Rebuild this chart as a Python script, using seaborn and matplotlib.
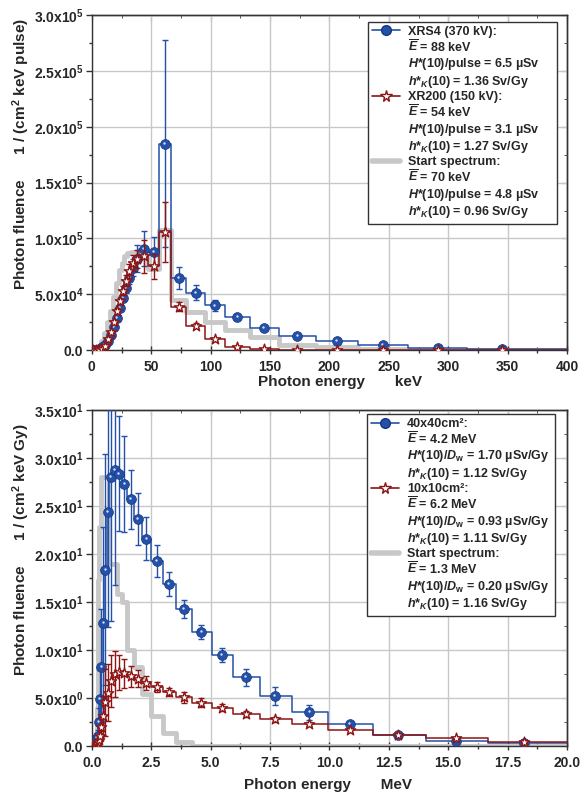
import pandas as pd
import seaborn as sns
import matplotlib.pyplot as plt
from matplotlib.lines import Line2D
from matplotlib.ticker import MultipleLocator
from matplotlib.transforms import offset_copy

# ---- upper panel: X-ray tubes (keV, 1/(cm2 keV pulse))
keV_edges = [0, 2.5, 5, 7.5, 10, 12.5, 15, 17.5, 20, 22.5, 25, 27.5, 30, 33, 36, 40,
             47.4, 56.7, 66.3, 79.7, 95, 112, 133, 157.5, 188.6, 224, 266, 315.5, 400]
keV_centres = [1.25, 3.75, 6.25, 8.75, 11.25, 13.75, 16.25, 18.75, 21.25, 23.75, 26.25,
               28.75, 31.5, 34.5, 38, 43.7, 52, 61.5, 73, 87.3, 103.5, 122.5, 145, 173,
               206, 245, 291, 345.5]
xrs4_flu = [0, 300, 1000, 2500, 5000, 8500, 14000, 21000, 29000, 38000, 47000, 56000,
            65000, 74000, 82000, 91000, 88000, 185000, 64500, 51600, 40000, 29300, 20000,
            12500, 8000, 4500, 2000, 600]
xrs4_err = [100, 100, 200, 300, 500, 800, 1200, 1800, 2500, 3000, 4000, 5000, 6000, 8000,
            12000, 16000, 13000, 93000, 10000, 7000, 5000, 2000, 1200, 800, 500, 300, 200, 100]
xr200_flu = [0, 0, 300, 1000, 3500, 9600, 16000, 25000, 35000, 44000, 53000, 62000, 71000,
             78000, 82000, 84000, 75000, 106000, 39000, 22000, 9600, 2400, 600, 200, 100, 0, 0, 0]
xr200_err = [0, 0, 100, 200, 400, 800, 1300, 2000, 2500, 3000, 4000, 5000, 6000, 7000, 8000,
             15000, 11000, 27000, 4000, 2000, 1500, 500, 200, 100, 100, 0, 0, 0]
start_keV_flu = [0, 500, 3000, 8000, 15000, 25000, 35000, 48000, 60000, 72000, 78000, 84000,
                 87000, 88000, 88000, 86000, 73000, 108000, 45000, 34000, 25000, 18000,
                 12000, 5000, 2400, 600, 0, 0]

# ---- lower panel: linac fields (MeV, 1/(cm2 keV Gy))
MeV_edges = [0.078, 0.092, 0.11, 0.13, 0.155, 0.185, 0.22, 0.26, 0.31, 0.37, 0.44, 0.52,
             0.62, 0.74, 0.88, 1.05, 1.25, 1.49, 1.77, 2.11, 2.51, 2.98, 3.55, 4.22, 5.04,
             5.95, 7.07, 8.41, 9.95, 11.84, 14.06, 16.69, 20.0]
MeV_centres = [0.085, 0.1, 0.12, 0.142, 0.17, 0.2, 0.24, 0.285, 0.34, 0.405, 0.48, 0.57,
               0.68, 0.81, 0.96, 1.15, 1.37, 1.63, 1.94, 2.3, 2.74, 3.25, 3.87, 4.61, 5.48,
               6.49, 7.71, 9.15, 10.85, 12.9, 15.32, 18.2]
f40_flu = [0.05, 0.1, 0.2, 0.35, 0.6, 0.9, 1.1, 2.5, 4.9, 8.3, 12.8, 18.4, 24.4, 28.05, 28.8,
           28.4, 27.3, 25.7, 23.7, 21.6, 19.3, 16.9, 14.3, 11.9, 9.5, 7.2, 5.24, 3.54, 2.29,
           1.18, 0.6, 0.3]
f40_err = [0.05, 0.1, 0.15, 0.2, 0.3, 0.4, 0.6, 1.5, 3, 6, 10, 12, 12, 15, 12, 6, 5, 3.1,
           2.7, 2.25, 1.7, 1.2, 0.9, 0.7, 0.7, 0.9, 0.9, 0.8, 0.3, 0.2, 0.1, 0.1]
f10_flu = [0.0, 0.02, 0.05, 0.1, 0.15, 0.25, 0.45, 0.7, 1.1, 2.0, 3.2, 4.6, 5.6, 6.8, 7.5,
           7.7, 7.6, 7.3, 7.05, 6.6, 6.2, 5.66, 5.1, 4.55, 4.03, 3.33, 2.81, 2.29, 1.67,
           1.18, 0.9, 0.45]
f10_err = [0, 0.01, 0.02, 0.04, 0.06, 0.1, 0.2, 0.3, 0.5, 1.0, 2.0, 3.5, 3.0, 2.7, 2.4, 1.8,
           1.5, 1.1, 0.9, 0.7, 0.55, 0.45, 0.6, 0.45, 0.35, 0.3, 0.25, 0.2, 0.15, 0.1, 0.1, 0.1]
start_MeV_flu = [0, 0, 0, 0, 0.2, 1, 4, 17.3, 22.8, 28, 28, 28, 28, 19, 19, 15.9, 15, 10,
                 8.3, 5.5, 3.2, 1.35, 0.45, 0, 0, 0, 0, 0, 0, 0, 0, 0]

# ---- ticks and legend text
top_xticks = [0, 50, 100, 150, 200, 250, 300, 350, 400]
top_xticklabels = ['0', '50', '100', '150', '200', '250', '300', '350', '400']
top_yticks = [0, 5e4, 1e5, 1.5e5, 2e5, 2.5e5, 3e5]
top_yticklabels = ['0.0', '5.0x10$^{4}$', '1.0x10$^{5}$', '1.5x10$^{5}$', '2.0x10$^{5}$',
                   '2.5x10$^{5}$', '3.0x10$^{5}$']
bot_xticks = [0, 2.5, 5, 7.5, 10, 12.5, 15, 17.5, 20]
bot_xticklabels = ['0.0', '2.5', '5.0', '7.5', '10.0', '12.5', '15.0', '17.5', '20.0']
bot_yticks = [0, 5, 10, 15, 20, 25, 30, 35]
bot_yticklabels = ['0.0', '5.0x10$^{0}$', '1.0x10$^{1}$', '1.5x10$^{1}$', '2.0x10$^{1}$',
                   '2.5x10$^{1}$', '3.0x10$^{1}$', '3.5x10$^{1}$']

top_legend = [
    ['XRS4 (370 kV):', r'$\overline{E}$ = 88 keV', '$H$*(10)/pulse = 6.5 µSv',
     '$h$*$_{K}$(10) = 1.36 Sv/Gy'],
    ['XR200 (150 kV):', r'$\overline{E}$ = 54 keV', '$H$*(10)/pulse = 3.1 µSv',
     '$h$*$_{K}$(10) = 1.27 Sv/Gy'],
    ['Start spectrum:', r'$\overline{E}$ = 70 keV', '$H$*(10)/pulse = 4.8 µSv',
     '$h$*$_{K}$(10) = 0.96 Sv/Gy'],
]
bot_legend = [
    ['40x40cm²:', r'$\overline{E}$ = 4.2 MeV', '$H$*(10)/$D$$_{\\rm w}$ = 1.70 µSv/Gy',
     '$h$*$_{K}$(10) = 1.12 Sv/Gy'],
    ['10x10cm²:', r'$\overline{E}$ = 6.2 MeV', '$H$*(10)/$D$$_{\\rm w}$ = 0.93 µSv/Gy',
     '$h$*$_{K}$(10) = 1.11 Sv/Gy'],
    ['Start spectrum:', r'$\overline{E}$ = 1.3 MeV', '$H$*(10)/$D$$_{\\rm w}$ = 0.20 µSv/Gy',
     '$h$*$_{K}$(10) = 1.16 Sv/Gy'],
]

BLUE = '#2350a8'
BLUE_EDGE = '#17387e'
RED = '#8e1414'
GREY = '#c8c8c8'
DARK = '#333333'

sns.set_style('ticks')
plt.rcParams['font.family'] = ['Liberation Sans', 'DejaVu Sans']
plt.rcParams['font.weight'] = 'bold'
plt.rcParams['mathtext.fontset'] = 'custom'
plt.rcParams['mathtext.rm'] = 'Liberation Sans:bold'
plt.rcParams['mathtext.it'] = 'Liberation Sans:bold:italic'
plt.rcParams['mathtext.bf'] = 'Liberation Sans:bold'
plt.rcParams['axes.edgecolor'] = DARK
plt.rcParams['axes.linewidth'] = 1.0


def steps(ax, edges, vals, color, lw, z):
    df = pd.DataFrame({'E': edges, 'phi': list(vals) + [vals[-1]]})
    sns.lineplot(data=df, x='E', y='phi', drawstyle='steps-post', color=color, lw=lw,
                 ax=ax, zorder=z, legend=False, estimator=None, sort=False)


def balls(ax, x, y, err, z):
    ax.errorbar(x, y, yerr=err, fmt='none', ecolor=BLUE, elinewidth=1.0, capsize=2.5,
                capthick=1.0, zorder=z)
    sns.scatterplot(x=x, y=y, ax=ax, marker='o', s=50, color=BLUE, edgecolor=BLUE_EDGE,
                    linewidth=0.5, zorder=z + 0.1, legend=False)
    # small highlight to mimic the shaded sphere symbols
    shine = offset_copy(ax.transData, fig=ax.figure, x=-0.5, y=0.7, units='points')
    sns.scatterplot(x=x, y=y, ax=ax, marker='o', s=3, color='#d5def3', linewidth=0,
                    zorder=z + 0.2, legend=False, transform=shine)


def stars(ax, x, y, err, z):
    ax.errorbar(x, y, yerr=err, fmt='none', ecolor=RED, elinewidth=1.0, capsize=2.5,
                capthick=1.0, zorder=z)
    sns.scatterplot(x=x, y=y, ax=ax, marker='*', s=60, color='white', edgecolor=RED,
                    linewidth=1.0, zorder=z + 0.1, legend=False)


def style_axes(ax, xticks, xlabels, xminor, yticks, ylabels, yminor, xlim, ylim):
    ax.set_xlim(*xlim)
    ax.set_ylim(*ylim)
    ax.set_xticks(xticks, labels=xlabels)
    ax.set_yticks(yticks, labels=ylabels)
    ax.xaxis.set_minor_locator(MultipleLocator(xminor))
    ax.yaxis.set_minor_locator(MultipleLocator(yminor))
    ax.tick_params(axis='x', which='major', direction='inout', length=6, width=1,
                   labelsize=10, pad=4, color=DARK)
    ax.tick_params(axis='x', which='minor', direction='inout', length=4, width=1, color=DARK)
    ax.tick_params(axis='y', which='major', direction='out', length=4, width=1,
                   labelsize=10, pad=2, color=DARK)
    ax.tick_params(axis='y', which='minor', direction='out', length=2.5, width=1, color=DARK)
    ax.grid(True, which='major', color=GREY, lw=1.0)
    ax.set_axisbelow(True)
    top = ax.secondary_xaxis('top')
    top.set_xticks(xticks)
    top.xaxis.set_minor_locator(MultipleLocator(xminor))
    top.tick_params(which='both', direction='in', labeltop=False, color=DARK)
    top.tick_params(which='major', length=4)
    top.tick_params(which='minor', length=2.5)
    right = ax.secondary_yaxis('right')
    right.set_yticks(yticks)
    right.yaxis.set_minor_locator(MultipleLocator(yminor))
    right.tick_params(which='both', direction='in', labelright=False, color=DARK)
    right.tick_params(which='major', length=4)
    right.tick_params(which='minor', length=2.5)


def legend(ax, texts, box):
    heads = [
        Line2D([], [], color=BLUE, lw=1.2, marker='o', ms=7, mfc=BLUE, mec=BLUE_EDGE),
        Line2D([], [], color=RED, lw=1.2, marker='*', ms=8.5, mfc='white', mec=RED),
        Line2D([], [], color=GREY, lw=4),
    ]
    handles, labels = [], []
    for h, lines in zip(heads, texts):
        handles.append(h)
        labels.append(lines[0])
        for line in lines[1:]:
            handles.append(Line2D([], [], color='none'))
            labels.append(line)
    leg = ax.legend(handles, labels, loc='upper left', bbox_to_anchor=box, mode='expand',
                    frameon=True, fancybox=False, edgecolor=DARK, framealpha=1,
                    fontsize=9, handlelength=2.3, handletextpad=0.6, labelspacing=0.1,
                    borderpad=0.3, borderaxespad=0)
    leg.get_frame().set_linewidth(1.0)


fig = plt.figure(figsize=(5.81, 7.94), dpi=100)
ax1 = fig.add_axes([0.158, 0.559, 0.818, 0.422])
ax2 = fig.add_axes([0.158, 0.060, 0.818, 0.4235])

# upper panel
steps(ax1, keV_edges, start_keV_flu, GREY, 3.5, 2)
steps(ax1, keV_edges, xrs4_flu, BLUE, 1.1, 3)
steps(ax1, keV_edges, xr200_flu, RED, 1.1, 4)
balls(ax1, keV_centres, xrs4_flu, xrs4_err, 5)
stars(ax1, keV_centres, xr200_flu, xr200_err, 6)
style_axes(ax1, top_xticks, top_xticklabels, 25, top_yticks, top_yticklabels, 2.5e4,
           (0, 400), (0, 3e5))
legend(ax1, top_legend, (0.581, 0.0, 0.398, 0.979))
ax1.set_xlabel('Photon energy       keV', fontsize=11, fontweight='bold')
ax1.xaxis.set_label_coords(0.522, -0.074)
ax1.set_ylabel('Photon fluence      1 / (cm$^{2}$ keV pulse)', fontsize=11,
               fontweight='bold')
ax1.yaxis.set_label_coords(-0.125, 0.585)

# lower panel
steps(ax2, MeV_edges, start_MeV_flu, GREY, 3.5, 2)
steps(ax2, MeV_edges, f40_flu, BLUE, 1.1, 3)
steps(ax2, MeV_edges, f10_flu, RED, 1.1, 4)
balls(ax2, MeV_centres, f40_flu, f40_err, 5)
stars(ax2, MeV_centres, f10_flu, f10_err, 6)
style_axes(ax2, bot_xticks, bot_xticklabels, 1.25, bot_yticks, bot_yticklabels, 2.5,
           (0, 20), (0, 35))
legend(ax2, bot_legend, (0.579, 0.0, 0.396, 0.988))
ax2.set_xlabel('Photon energy       MeV', fontsize=11, fontweight='bold')
ax2.xaxis.set_label_coords(0.497, -0.093)
ax2.set_ylabel('Photon fluence      1 / (cm$^{2}$ keV Gy)', fontsize=11,
               fontweight='bold')
ax2.yaxis.set_label_coords(-0.125, 0.585)

fig.savefig('out.png', dpi=100)
